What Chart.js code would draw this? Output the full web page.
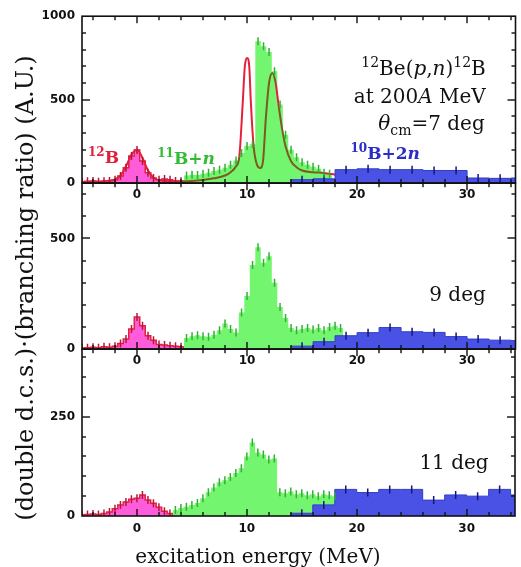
<!DOCTYPE html>
<html>
<head>
<meta charset="utf-8">
<script src="https://cdn.jsdelivr.net/npm/chart.js@4.4.0/dist/chart.umd.min.js"></script>
<style>
  body { margin: 0; background: #fff; }
  #wrap { position: relative; width: 521px; height: 567px; overflow: hidden; background: #fff; }
  canvas { position: absolute; left: 0; }
  .axis-title { position: absolute; font-family: "DejaVu Serif", serif; color: #111;
                white-space: nowrap; text-align: center; }
</style>
</head>
<body>
<div id="wrap">
  <canvas id="panelTop" width="521" height="208" style="top:2px"></canvas>
  <canvas id="panelMid" width="521" height="207" style="top:169px"></canvas>
  <canvas id="panelBot" width="521" height="232" style="top:335px"></canvas>
  <div class="axis-title" style="font-size:24px; height:28px; line-height:28px; left:-235px; top:274px; width:520px; transform:rotate(-90deg);">(double d.c.s.)·(branching ratio) (A.U.)</div>
  <div class="axis-title" style="font-size:20px; height:24px; line-height:24px; left:58px; top:544px; width:400px;">excitation energy (MeV)</div>
</div>
<script>
// shared x range + tick labels
var xMin = -5, xMax = 34.4;
var xTickLabels = [0, 10, 20, 30];
var binW = 0.5;       // 12B and 11B+n bins
var blueW = 2;        // 10B+2n bins
var blueStart = 14;

// ---- 7 deg ----
var pinkTopStart = -5.25;
var pinkTop = [8, 10, 12, 8, 10, 12, 20, 42, 92, 162, 198, 132, 62, 30, 20, 24, 20, 12, 10];
var greenTopStart = 4.25;
var greenTop = [45, 50, 48, 55, 62, 72, 80, 92, 110, 135, 180, 222, 232, 850, 820, 785, 670, 470, 290, 200, 155, 125, 110, 98, 85, 62, 55];
var blueTop = [20, 25, 80, 85, 80, 80, 75, 75, 30, 28, 30];
var curveX = [-5, -4, -3, -2.5, -2, -1.5, -1, -0.5, 0, 0.5, 1, 1.5, 2, 3, 4, 5, 6, 7, 8, 8.5, 9, 9.3, 9.6, 9.8, 10, 10.2, 10.35, 10.6, 10.9, 11.2, 11.45, 11.7, 12, 12.3, 12.6, 12.9, 13.2, 13.5, 14, 14.5, 15, 16, 17, 18, 19, 20];
var curveY = [5, 8, 10, 14, 22, 45, 100, 170, 200, 150, 75, 32, 16, 12, 10, 12, 18, 28, 45, 65, 100, 160, 470, 700, 750, 700, 480, 220, 110, 90, 130, 380, 600, 660, 600, 450, 320, 220, 130, 95, 75, 65, 60, 50, 40, 30];
var yLabelsTop = [0, 500, 1000];

// ---- 9 deg ----
var pinkMidStart = -5.25;
var pinkMid = [5, 6, 8, 6, 10, 8, 12, 25, 45, 90, 145, 105, 60, 40, 20, 18, 15, 12, 10];
var greenMidStart = 4.25;
var greenMid = [50, 58, 62, 58, 55, 65, 85, 115, 90, 75, 165, 240, 380, 460, 390, 420, 300, 190, 140, 95, 85, 90, 95, 88, 95, 85, 100, 105, 95];
var blueMid = [13, 33, 60, 74, 97, 78, 75, 56, 45, 40, 38];
var yLabelsMid = [0, 500];

// ---- 11 deg ----
var pinkBotStart = -5.25;
var pinkBot = [3, 4, 5, 4, 6, 10, 18, 28, 35, 42, 45, 53, 40, 32, 22, 12, 6];
var greenBotStart = 3.25;
var greenBot = [15, 20, 23, 28, 33, 45, 60, 72, 85, 90, 98, 108, 120, 150, 185, 160, 155, 142, 145, 60, 57, 62, 55, 57, 52, 55, 50, 55, 52, 50];
var blueBot = [7, 28, 67, 59, 67, 67, 40, 53, 50, 67, 53];
var yLabelsBot = [0, 250];

var pinkFill = '#ff5cdc', pinkLine = '#e4203c', pinkErr = '#b3183c';
var greenFill = '#74f56f', greenErr = '#2fb22f';
var blueFill = '#4a52e6', blueLine = '#2f3fc4', blueErr = '#16167a';
var tickFont = { family: "'DejaVu Sans', sans-serif", size: 12, weight: 'bold' };

// histogram outline: step up from 0 at the first edge, back to 0 after the last bin
function binPoints(start, width, vals) {
    var pts = [{ x: start, y: 0 }];
    vals.forEach(function(v, i) { pts.push({ x: start + i * width, y: v }); });
    pts.push({ x: start + vals.length * width, y: 0 });
    return pts;
}

// small vertical error marks at bin centres
function errPoints(start, width, vals) {
    return vals.map(function(v, i) { return { x: start + (i + 0.5) * width, y: v }; });
}

function binValue(start, width, vals, x) {
    var i = Math.floor((x - start) / width);
    return (i >= 0 && i < vals.length) ? vals[i] : 0;
}

function histSet(pts, fill, line, lineW, order) {
    return {
        data: pts, stepped: 'before', fill: 'origin',
        backgroundColor: fill, borderColor: line, borderWidth: lineW,
        pointRadius: 0, order: order
    };
}

function errSet(pts, color) {
    return {
        data: pts, showLine: false, pointStyle: 'line', rotation: 90,
        pointRadius: 4, pointBorderWidth: 1.5, pointBorderColor: color,
        pointBackgroundColor: color, order: 0
    };
}

// frame + inward ticks on all four sides (x minor every 2, major every 10)
function frameTicks(yMax, yMinor, yMajor) {
    return {
        id: 'frameTicks',
        afterDraw: function(chart) {
            var c = chart.ctx, a = chart.chartArea, sx = chart.scales.x, sy = chart.scales.y;
            c.save();
            c.fillStyle = '#111';
            for (var v = Math.ceil(xMin / 2) * 2; v <= xMax; v += 2) {
                var px = Math.round(sx.getPixelForValue(v));
                var len = (v % 10 === 0) ? 7 : 4;
                c.fillRect(px - 0.7, a.top, 1.4, len);
                c.fillRect(px - 0.7, a.bottom - len, 1.4, len);
            }
            for (var w = yMinor; w < yMax; w += yMinor) {
                var py = Math.round(sy.getPixelForValue(w));
                var ylen = (w % yMajor === 0) ? 8 : 4;
                c.fillRect(a.left, py - 0.7, ylen, 1.4);
                c.fillRect(a.right - ylen, py - 0.7, ylen, 1.4);
            }
            c.strokeStyle = '#111';
            c.lineWidth = 1.6;
            c.strokeRect(a.left, a.top, a.right - a.left, a.bottom - a.top);
            c.restore();
        }
    };
}

// text with super/subscripts, anchored in data units
function drawRich(c, parts, x, y, align, size, color, bold) {
    function fontFor(p) {
        var s = (p.sup || p.sub) ? Math.round(size * 0.7) : size;
        return (p.it ? 'italic ' : '') + (bold ? 'bold ' : '') + s + 'px "DejaVu Serif", serif';
    }
    var w = 0;
    parts.forEach(function(p) { c.font = fontFor(p); w += c.measureText(p.t).width; });
    var cx = align === 'right' ? x - w : (align === 'center' ? x - w / 2 : x);
    c.fillStyle = color;
    c.textBaseline = 'alphabetic';
    c.textAlign = 'left';
    parts.forEach(function(p) {
        c.font = fontFor(p);
        var dy = p.sup ? -size * 0.4 : (p.sub ? size * 0.25 : 0);
        c.fillText(p.t, cx, y + dy);
        cx += c.measureText(p.t).width;
    });
}

function notesPlugin(notes) {
    return {
        id: 'notes',
        afterDraw: function(chart) {
            var c = chart.ctx;
            c.save();
            notes.forEach(function(n) {
                var px = chart.scales.x.getPixelForValue(n.x);
                var py = chart.scales.y.getPixelForValue(n.y);
                drawRich(c, n.parts, px, py, n.align || 'left', n.size || 20, n.color || '#111', n.bold);
            });
            c.restore();
        }
    };
}

function makePanel(id, p) {
    var datasets = [
        errSet(errPoints(p.pinkStart, binW, p.pink), pinkErr),
        errSet(errPoints(p.greenStart, binW, p.green), greenErr),
        errSet(errPoints(blueStart, blueW, p.blue), blueErr),
        histSet(binPoints(blueStart, blueW, p.blue), blueFill, blueLine, 1, 1),
        histSet(binPoints(p.greenStart, binW, p.green), greenFill, greenFill, 0, 3),
        histSet(binPoints(p.pinkStart, binW, p.pink), pinkFill, pinkLine, 1.5, 4)
    ];
    if (p.curve) {
        datasets.push({
            data: p.curve, borderWidth: 2, pointRadius: 0, fill: false,
            cubicInterpolationMode: 'monotone', borderColor: '#e3223a', order: 2,
            segment: {
                borderColor: function(s) {
                    var xm = (s.p0.parsed.x + s.p1.parsed.x) / 2;
                    var ym = (s.p0.parsed.y + s.p1.parsed.y) / 2;
                    var g = binValue(p.greenStart, binW, p.green, xm);
                    return (g > 0 && ym < g) ? '#7c5a22' : '#e3223a';
                }
            }
        });
    }

    new Chart(document.getElementById(id), {
        type: 'line',
        data: { datasets: datasets },
        options: {
            responsive: false,
            animation: false,
            layout: { padding: { top: 14, right: 1, left: 0, bottom: 0 } },
            plugins: { legend: { display: false }, tooltip: { enabled: false } },
            scales: {
                x: {
                    type: 'linear', min: xMin, max: xMax,
                    grid: { display: false, drawTicks: false, tickLength: 0 },
                    border: { display: false },
                    ticks: {
                        stepSize: 2, autoSkip: false, maxRotation: 0, padding: p.xPad,
                        color: '#111', font: tickFont,
                        callback: function(v) { return xTickLabels.indexOf(v) >= 0 ? String(v) : ''; }
                    },
                    afterFit: function(s) { s.height = p.xHeight; }
                },
                y: {
                    min: 0, max: p.yMax,
                    grid: { display: false, drawTicks: false, tickLength: 0 },
                    border: { display: false },
                    ticks: {
                        stepSize: p.yMinor, autoSkip: false, padding: 7,
                        color: '#111', font: tickFont,
                        callback: function(v) { return p.yLabels.indexOf(v) >= 0 ? String(v) : ''; }
                    },
                    afterFit: function(s) { s.width = 82; }
                }
            }
        },
        plugins: [notesPlugin(p.notes), frameTicks(p.yMax, p.yMinor, p.yMajor)]
    });
}

var curvePts = curveX.map(function(x, i) { return { x: x, y: curveY[i] }; });

makePanel('panelTop', {
    pinkStart: pinkTopStart, pink: pinkTop, greenStart: greenTopStart, green: greenTop, blue: blueTop,
    curve: curvePts, yMax: 1000, yMinor: 100, yMajor: 500, yLabels: yLabelsTop, xPad: 5, xHeight: 27,
    notes: [
        { x: 31.7, y: 647, align: 'right', parts: [{ t: '12', sup: 1 }, { t: 'Be(' }, { t: 'p', it: 1 }, { t: ',' }, { t: 'n', it: 1 }, { t: ')' }, { t: '12', sup: 1 }, { t: 'B' }] },
        { x: 31.7, y: 479, align: 'right', parts: [{ t: 'at 200' }, { t: 'A', it: 1 }, { t: ' MeV' }] },
        { x: 31.6, y: 315, align: 'right', parts: [{ t: 'θ', it: 1 }, { t: 'cm', sub: 1 }, { t: '=7 deg' }] },
        { x: 19.4, y: 144, size: 17, bold: 1, color: '#2c2cc8', parts: [{ t: '10', sup: 1 }, { t: 'B+2' }, { t: 'n', it: 1 }] },
        { x: -4.46, y: 120, size: 17, bold: 1, color: '#e0203a', parts: [{ t: '12', sup: 1 }, { t: 'B' }] },
        { x: 1.84, y: 114, size: 17, bold: 1, color: '#33bb33', parts: [{ t: '11', sup: 1 }, { t: 'B+' }, { t: 'n', it: 1 }] }
    ]
});

makePanel('panelMid', {
    pinkStart: pinkMidStart, pink: pinkMid, greenStart: greenMidStart, green: greenMid, blue: blueMid,
    yMax: 750, yMinor: 100, yMajor: 500, yLabels: yLabelsMid, xPad: 5, xHeight: 27,
    notes: [{ x: 31.7, y: 216, align: 'right', parts: [{ t: '9 deg' }] }]
});

makePanel('panelBot', {
    pinkStart: pinkBotStart, pink: pinkBot, greenStart: greenBotStart, green: greenBot, blue: blueBot,
    yMax: 420, yMinor: 50, yMajor: 250, yLabels: yLabelsBot, xPad: 6, xHeight: 51,
    notes: [{ x: 32.0, y: 119, align: 'right', parts: [{ t: '11 deg' }] }]
});
</script>
</body>
</html>
